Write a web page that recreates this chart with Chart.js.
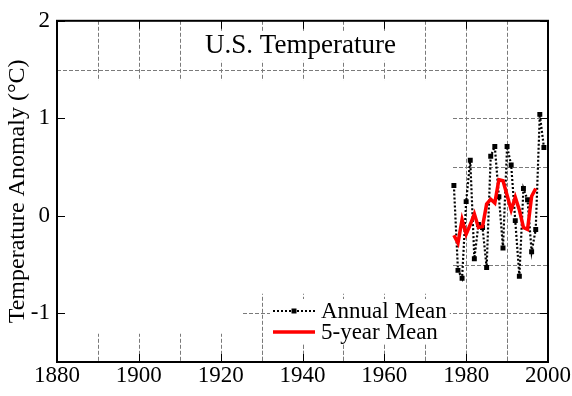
<!DOCTYPE html>
<html>
<head>
<meta charset="utf-8">
<script src="https://cdn.jsdelivr.net/npm/chart.js@4.4.0/dist/chart.umd.min.js"></script>
<style>
  html, body { margin: 0; padding: 0; background: #fff; }
  #wrap { width: 572px; height: 396px; }
</style>
</head>
<body>
<div id="wrap"><canvas id="tempChart" width="572" height="396"></canvas></div>
<script>
// years shown in the plot
const years = [1977, 1978, 1979, 1980, 1981, 1982, 1983, 1984, 1985, 1986, 1987, 1988,
               1989, 1990, 1991, 1992, 1993, 1994, 1995, 1996, 1997, 1998, 1999];
// annual mean anomaly (°C)
const annualMean = [0.31, -0.56, -0.64, 0.145, 0.57, -0.44, -0.09, -0.12, -0.53, 0.61, 0.71, 0.195,
                    -0.33, 0.71, 0.52, -0.05, -0.62, 0.28, 0.165, -0.37, -0.14, 1.04, 0.70];
// 5-year running mean (ends 1997)
const fiveYearMean = [-0.20, -0.28, -0.04, -0.19, -0.09, 0.02, -0.12, -0.11, 0.12, 0.17, 0.13, 0.37,
                      0.36, 0.21, 0.06, 0.19, 0.06, -0.12, -0.14, 0.20, 0.28, null, null];

const xTickYears = [1880, 1900, 1920, 1940, 1960, 1980, 2000];
const yTickValues = [-1, 0, 1, 2];
const gridYears = [1890, 1900, 1910, 1920, 1930, 1940, 1950, 1960, 1970, 1980, 1990];
const gridValues = [-1, -0.5, 0.5, 1, 1.5];

const serif = "'Liberation Serif', 'Times New Roman', serif";

// dashed grid, only drawn inside a few boxes (like the original plot)
const boxedGrid = {
    id: 'boxedGrid',
    beforeDatasetsDraw(chart, args, opts) {
        const {ctx, chartArea: a, scales: {x, y}} = chart;
        ctx.save();
        ctx.strokeStyle = opts.color;
        ctx.lineWidth = 1;
        ctx.setLineDash(opts.dash);
        opts.boxes.forEach(b => {
            const l = x.getPixelForValue(b.x0), r = x.getPixelForValue(b.x1);
            const t = y.getPixelForValue(b.y1), bt = y.getPixelForValue(b.y0);
            ctx.save();
            ctx.beginPath();
            ctx.rect(l, t, r - l, bt - t);
            ctx.clip();
            ctx.beginPath();
            gridYears.forEach(v => {
                const px = Math.round(x.getPixelForValue(v)) + 0.5;
                ctx.moveTo(px, a.top);
                ctx.lineTo(px, a.bottom);
            });
            gridValues.forEach(v => {
                const py = Math.round(y.getPixelForValue(v)) + 0.5;
                ctx.moveTo(a.left, py);
                ctx.lineTo(a.right, py);
            });
            ctx.stroke();
            ctx.restore();
        });
        ctx.restore();
    }
};

// box around the plot + inward tick marks
const frame = {
    id: 'frame',
    afterDatasetsDraw(chart, args, opts) {
        const {ctx, chartArea: a, scales: {x, y}} = chart;
        ctx.save();
        ctx.strokeStyle = '#000';
        ctx.lineWidth = 1;
        ctx.beginPath();
        x.ticks.forEach(t => {
            const px = Math.round(x.getPixelForValue(t.value)) + 0.5;
            ctx.moveTo(px, a.bottom); ctx.lineTo(px, a.bottom - opts.tick);
            ctx.moveTo(px, a.top); ctx.lineTo(px, a.top + opts.tick);
        });
        y.ticks.forEach(t => {
            const py = Math.round(y.getPixelForValue(t.value)) + 0.5;
            ctx.moveTo(a.left, py); ctx.lineTo(a.left + opts.tick, py);
            ctx.moveTo(a.right, py); ctx.lineTo(a.right - opts.tick, py);
        });
        ctx.stroke();
        ctx.lineWidth = opts.width;
        ctx.strokeRect(a.left, a.top, a.right - a.left, a.bottom - a.top);
        ctx.restore();
    }
};

// title and legend drawn inside the plot area
const innerText = {
    id: 'innerText',
    afterDraw(chart, args, opts) {
        const {ctx, chartArea: a} = chart;
        ctx.save();
        // title
        ctx.font = opts.titleFont;
        ctx.textBaseline = 'alphabetic';
        ctx.textAlign = 'center';
        const tw = ctx.measureText(opts.title).width;
        const cx = (a.left + a.right) / 2 - 2;
        ctx.fillStyle = '#fff';
        ctx.fillRect(cx - tw / 2 - 4, a.top + 11, tw + 8, 29);
        ctx.fillStyle = '#000';
        ctx.fillText(opts.title, cx, a.top + 32);

        // legend
        const ds = opts.legendOrder.map(i => chart.data.datasets[i]);
        const lx = opts.legendX, ly = opts.legendY, gap = opts.legendGap;
        ctx.font = opts.legendFont;
        const maxW = Math.max(...ds.map(d => ctx.measureText(d.label).width));
        ctx.fillStyle = '#fff';
        ctx.fillRect(lx - 3, ly - 12, 48 + maxW + 6, gap + 24);
        ds.forEach((d, i) => {
            const yy = ly + i * gap;
            ctx.save();
            ctx.strokeStyle = d.borderColor;
            ctx.lineWidth = d.borderWidth;
            ctx.setLineDash(d.borderDash || []);
            ctx.beginPath();
            ctx.moveTo(lx, yy);
            ctx.lineTo(lx + 42, yy);
            ctx.stroke();
            if (d.pointRadius > 0) {
                ctx.fillStyle = d.pointBackgroundColor;
                ctx.fillRect(lx + 21 - 2.5, yy - 2.5, 5, 5);
            }
            ctx.restore();
            ctx.fillStyle = '#000';
            ctx.textAlign = 'left';
            ctx.textBaseline = 'middle';
            ctx.fillText(d.label, lx + 48, yy + 1);
        });
        ctx.restore();
    }
};

const ctx = document.getElementById('tempChart').getContext('2d');

new Chart(ctx, {
    type: 'line',
    data: {
        datasets: [
            {
                label: 'Annual Mean',
                data: years.map((yr, i) => ({x: yr, y: annualMean[i]})),
                borderColor: '#000',
                borderWidth: 2.2,
                borderDash: [2, 2],
                pointStyle: 'rect',
                pointRadius: 3.5,
                pointBackgroundColor: '#000',
                pointBorderColor: '#000',
                pointBorderWidth: 0,
                tension: 0,
                fill: false,
                order: 1
            },
            {
                label: '5-year Mean',
                data: years.map((yr, i) => ({x: yr, y: fiveYearMean[i]})),
                borderColor: '#ff0000',
                borderWidth: 3.5,
                pointRadius: 0,
                tension: 0,
                fill: false,
                spanGaps: false,
                order: 0
            }
        ]
    },
    options: {
        responsive: false,
        animation: false,
        devicePixelRatio: 1,
        layout: {
            padding: {top: 15, right: 24, left: 0, bottom: 0}
        },
        plugins: {
            legend: {display: false},
            tooltip: {enabled: false},
            boxedGrid: {
                color: '#7a7a7a',
                dash: [4, 2],
                boxes: [
                    {x0: 1880, x1: 2000, y0: 1.39, y1: 2},      // top band
                    {x0: 1880, x1: 2000, y0: -1.5, y1: -1.21},  // bottom band
                    {x0: 1925, x1: 2000, y0: -1.5, y1: -0.8},   // around the legend
                    {x0: 1976.6, x1: 2000, y0: -1.5, y1: 1.5}   // around the data
                ]
            },
            frame: {width: 2, tick: 8},
            innerText: {
                title: 'U.S. Temperature',
                titleFont: '27px ' + serif,
                legendFont: '23px ' + serif,
                legendOrder: [0, 1],
                legendX: 273,
                legendY: 311,
                legendGap: 21
            }
        },
        scales: {
            x: {
                type: 'linear',
                min: 1880,
                max: 2000,
                grid: {display: false, drawTicks: false},
                border: {display: false},
                afterBuildTicks: s => { s.ticks = xTickYears.map(v => ({value: v})); },
                afterFit: s => { s.height = 34; },
                ticks: {
                    callback: v => String(v),
                    color: '#000',
                    padding: 0,
                    maxRotation: 0,
                    autoSkip: false,
                    font: {family: serif, size: 23}
                }
            },
            y: {
                min: -1.5,
                max: 2,
                grid: {display: false, drawTicks: false},
                border: {display: false},
                afterBuildTicks: s => { s.ticks = yTickValues.map(v => ({value: v})); },
                afterFit: s => { s.width = 57; },
                ticks: {
                    callback: v => String(v),
                    color: '#000',
                    padding: 7,
                    font: {family: serif, size: 23}
                },
                title: {
                    display: true,
                    text: 'Temperature Anomaly (°C)',
                    color: '#000',
                    font: {family: serif, size: 24},
                    padding: {top: 3, bottom: 0}
                }
            }
        }
    },
    plugins: [boxedGrid, frame, innerText]
});
</script>
</body>
</html>
